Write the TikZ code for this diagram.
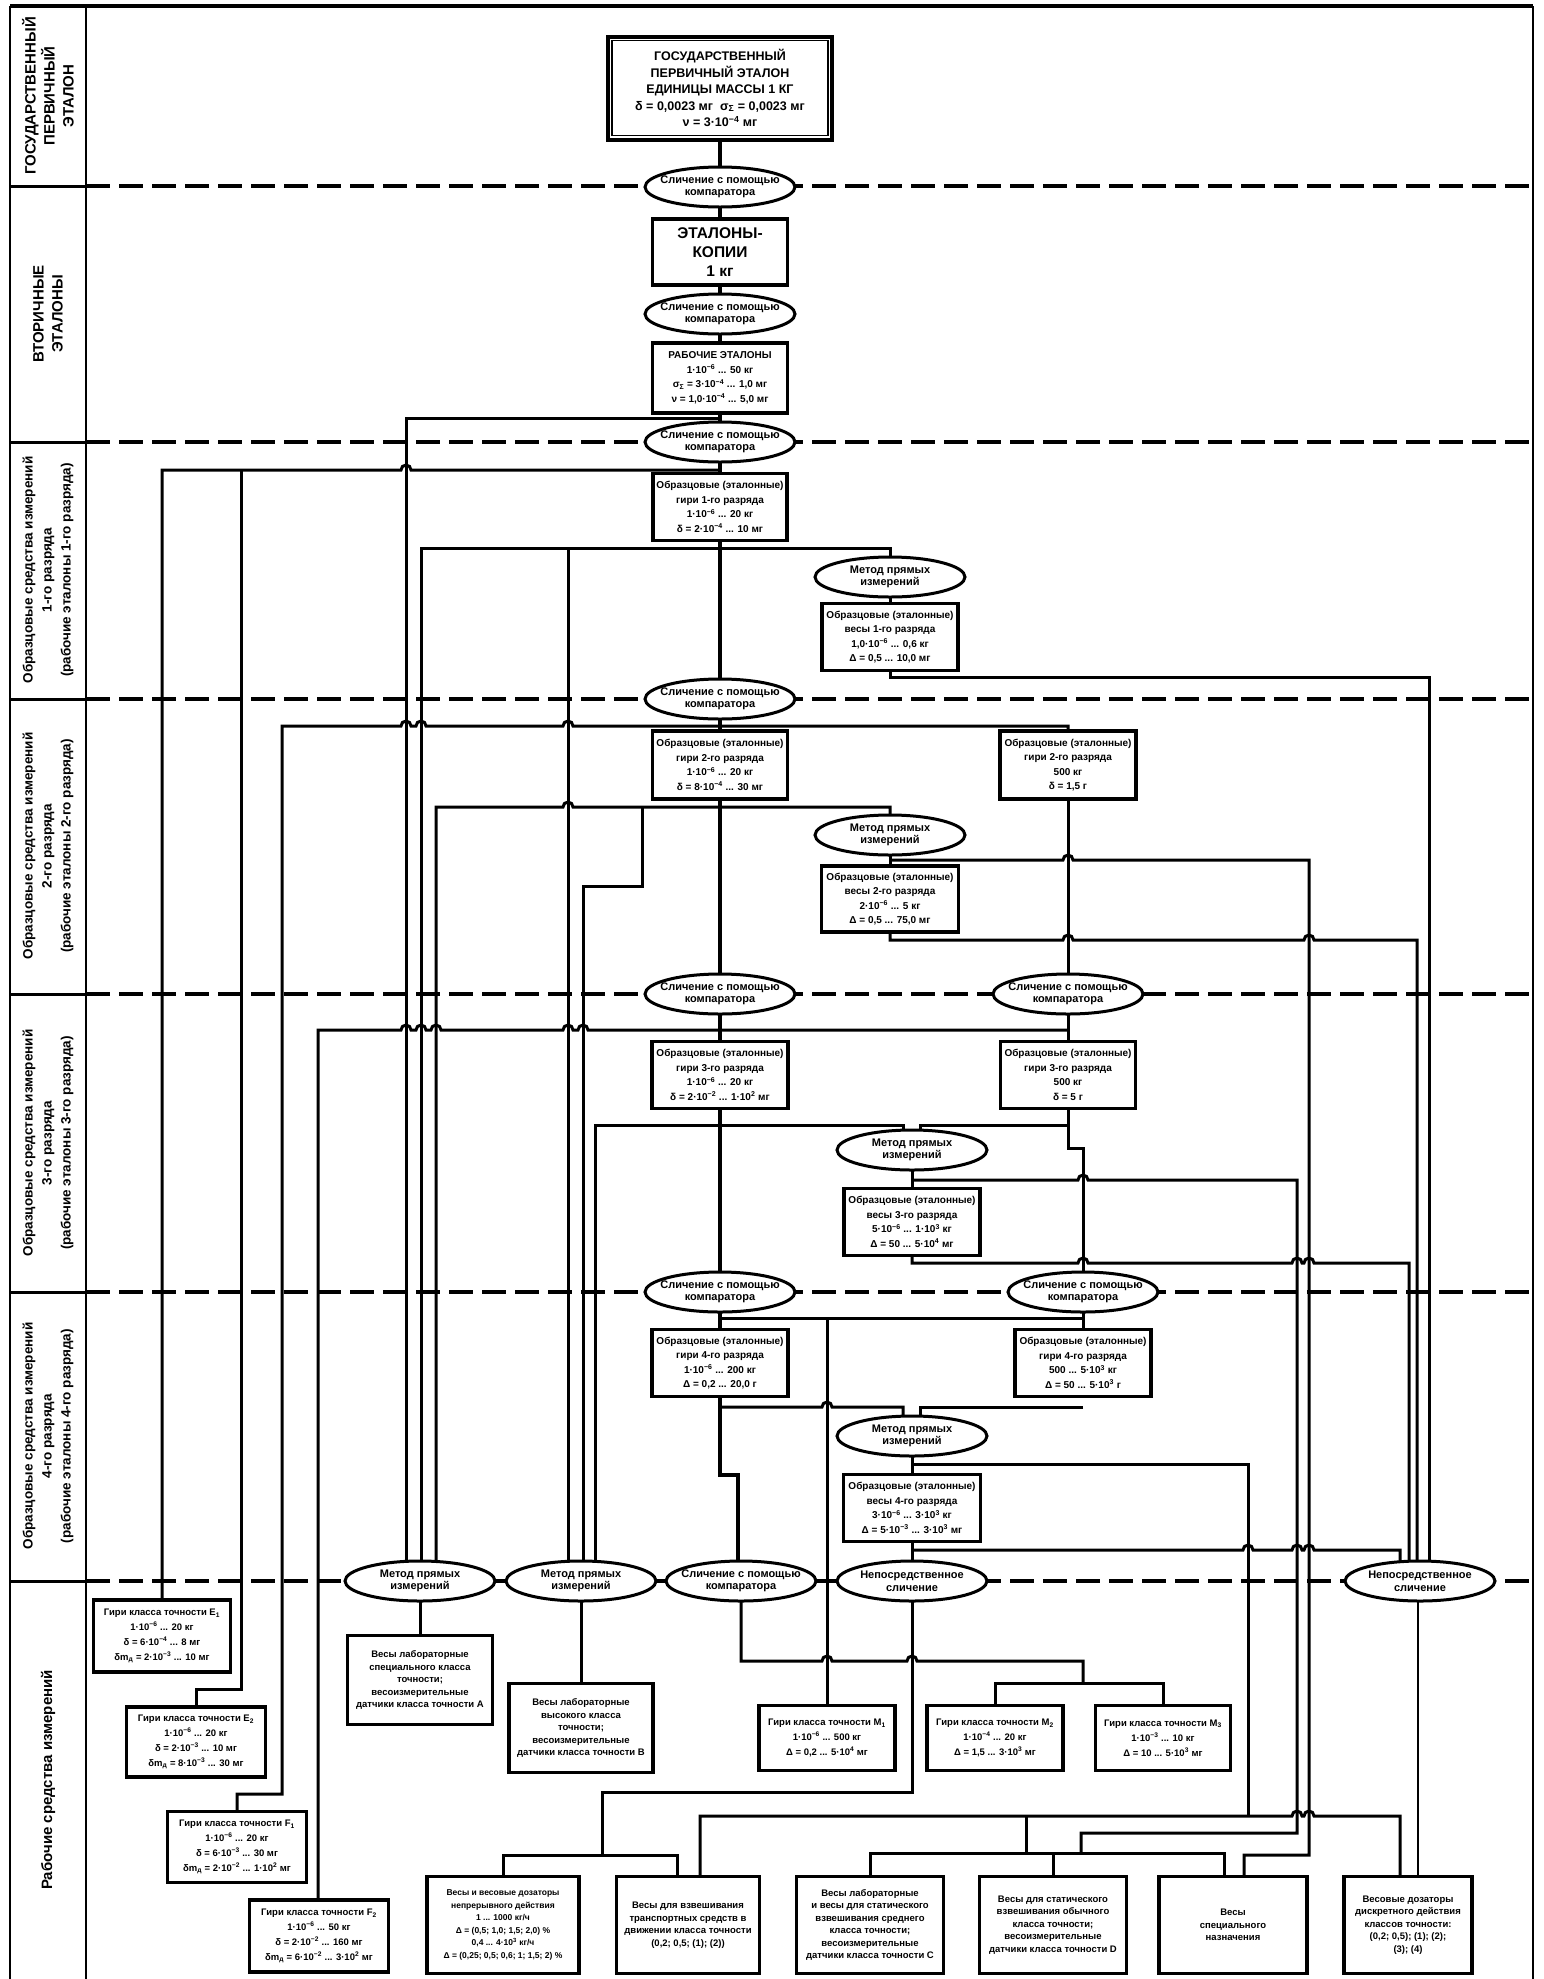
\documentclass[tikz,border=0pt]{standalone}
\usepackage{fontspec}
\setmainfont{Liberation Sans}
\usetikzlibrary{shapes.geometric}
\pgfdeclarelayer{paper}
\pgfdeclarelayer{background}
\pgfsetlayers{paper,background,main}
\newcommand\xsup[1]{\textsuperscript{#1}}
\newcommand\xsub[1]{\textsubscript{#1}}
\begin{document}
\begin{tikzpicture}[x=1pt,y=-1pt,
  bx/.style={draw, line width=3.5pt, fill=white, inner sep=1pt, align=center, font=\bfseries\fontsize{10}{14.5}\selectfont},
  bxs/.style={bx, font=\bfseries\fontsize{9.5}{12.5}\selectfont},
  bxe/.style={bx, font=\bfseries\fontsize{9.5}{15}\selectfont},
  ell/.style={draw, ellipse, line width=3pt, fill=white, inner xsep=-16pt, inner ysep=-2pt, minimum width=150pt, minimum height=40pt, align=center, font=\bfseries\fontsize{11}{12.5}\selectfont},
  conn/.style={line width=3pt},
  spine/.style={line width=4pt},
  thinconn/.style={line width=1.5pt},
  sepline/.style={line width=4pt, dash pattern=on 24pt off 9pt},
  lanelab/.style={rotate=90, align=center, font=\bfseries\fontsize{13.5}{19}\selectfont},
  lanecap/.style={rotate=90, align=center, font=\bfseries\fontsize{15}{19}\selectfont}]
\useasboundingbox (0,0) rectangle (1543,1979);
\begin{pgfonlayer}{paper}
\fill[white] (0,0) rectangle (1543,1979);
\end{pgfonlayer}

% ---------- lane labels ----------
\node[lanecap] (lab1) at (48,96) {ГОСУДАРСТВЕННЫЙ\\ПЕРВИЧНЫЙ\\ЭТАЛОН};
\node[lanecap] (lab2) at (48,314) {ВТОРИЧНЫЕ\\ЭТАЛОНЫ};
\node[lanelab] (lab3) at (48,570) {Образцовые средства измерений\\1-го разряда\\(рабочие эталоны 1-го разряда)};
\node[lanelab] (lab4) at (48,846) {Образцовые средства измерений\\2-го разряда\\(рабочие эталоны 2-го разряда)};
\node[lanelab] (lab5) at (48,1143) {Образцовые средства измерений\\3-го разряда\\(рабочие эталоны 3-го разряда)};
\node[lanelab] (lab6) at (48,1436) {Образцовые средства измерений\\4-го разряда\\(рабочие эталоны 4-го разряда)};
\node[lanecap] (lab7) at (48,1780) {Рабочие средства измерений};

% ---------- central column ----------
\node[bx, line width=4pt, minimum width=224pt, minimum height=103pt, font=\bfseries\fontsize{12.5}{16.5}\selectfont] (gos) at (720,88)
  {ГОСУДАРСТВЕННЫЙ\\ПЕРВИЧНЫЙ ЭТАЛОН\\ЕДИНИЦЫ МАССЫ 1 КГ\\δ = 0,0023 мг \ σ\xsub{Σ} = 0,0023 мг\\ν = 3·10\xsup{−4} мг};
\draw[line width=1.5pt] ([shift={(6,6)}]gos.north west) rectangle ([shift={(-6,-6)}]gos.south east);
\node[ell] (ec1) at (720,187) {Сличение с помощью\\компаратора};
\node[bx, minimum width=135pt, minimum height=66pt, font=\bfseries\fontsize{15.5}{19}\selectfont] (kop) at (720,252) {ЭТАЛОНЫ-\\КОПИИ\\1 кг};
\node[ell] (ec2) at (720,314) {Сличение с помощью\\компаратора};
\node[bx, minimum width=135pt, minimum height=70pt] (rab) at (720,378)
  {РАБОЧИЕ ЭТАЛОНЫ\\1·10\xsup{−6} ... 50 кг\\σ\xsub{Σ} = 3·10\xsup{−4} ... 1,0 мг\\ν = 1,0·10\xsup{−4} ... 5,0 мг};
\node[ell] (ec3) at (720,442) {Сличение с помощью\\компаратора};
\node[bx, minimum width=134pt, minimum height=67pt] (g1) at (720,507)
  {Образцовые (эталонные)\\гири 1-го разряда\\1·10\xsup{−6} ... 20 кг\\δ = 2·10\xsup{−4} ... 10 мг};
\node[ell] (em1) at (890,577) {Метод прямых\\измерений};
\node[bx, minimum width=136pt, minimum height=67pt] (w1) at (890,637)
  {Образцовые (эталонные)\\весы 1-го разряда\\1,0·10\xsup{−6} ... 0,6 кг\\Δ = 0,5 ... 10,0 мг};
\node[ell] (ec4) at (720,699) {Сличение с помощью\\компаратора};
\node[bx, minimum width=135pt, minimum height=68pt] (g2) at (720,765)
  {Образцовые (эталонные)\\гири 2-го разряда\\1·10\xsup{−6} ... 20 кг\\δ = 8·10\xsup{−4} ... 30 мг};
\node[bx, minimum width=136pt, minimum height=68pt] (g2b) at (1068,765)
  {Образцовые (эталонные)\\гири 2-го разряда\\500 кг\\δ = 1,5 г};
\node[ell] (em2) at (890,835) {Метод прямых\\измерений};
\node[bx, minimum width=137pt, minimum height=66pt] (w2) at (890,899)
  {Образцовые (эталонные)\\весы 2-го разряда\\2·10\xsup{−6} ... 5 кг\\Δ = 0,5 ... 75,0 мг};
\node[ell] (ec5) at (720,994) {Сличение с помощью\\компаратора};
\node[ell] (ec5r) at (1068,994) {Сличение с помощью\\компаратора};
\node[bx, minimum width=136pt, minimum height=67pt] (g3) at (720,1075)
  {Образцовые (эталонные)\\гири 3-го разряда\\1·10\xsup{−6} ... 20 кг\\δ = 2·10\xsup{−2} ... 1·10\xsup{2} мг};
\node[bx, minimum width=135pt, minimum height=67pt] (g3b) at (1068,1075)
  {Образцовые (эталонные)\\гири 3-го разряда\\500 кг\\δ = 5 г};
\node[ell] (em3) at (912,1150) {Метод прямых\\измерений};
\node[bx, minimum width=136pt, minimum height=67pt] (w3) at (912,1222)
  {Образцовые (эталонные)\\весы 3-го разряда\\5·10\xsup{−6} ... 1·10\xsup{3} кг\\Δ = 50 ... 5·10\xsup{4} мг};
\node[ell] (ec6) at (720,1292) {Сличение с помощью\\компаратора};
\node[ell] (ec6r) at (1083,1292) {Сличение с помощью\\компаратора};
\node[bx, minimum width=136pt, minimum height=67pt] (g4) at (720,1363)
  {Образцовые (эталонные)\\гири 4-го разряда\\1·10\xsup{−6} ... 200 кг\\Δ = 0,2 ... 20,0 г};
\node[bx, minimum width=136pt, minimum height=67pt] (g4b) at (1083,1363)
  {Образцовые (эталонные)\\гири 4-го разряда\\500 ... 5·10\xsup{3} кг\\Δ = 50 ... 5·10\xsup{3} г};
\node[ell] (em4) at (912,1436) {Метод прямых\\измерений};
\node[bx, minimum width=137pt, minimum height=67pt] (w4) at (912,1508)
  {Образцовые (эталонные)\\весы 4-го разряда\\3·10\xsup{−6} ... 3·10\xsup{3} кг\\Δ = 5·10\xsup{−3} ... 3·10\xsup{3} мг};

% ---------- working instruments ----------
\node[ell] (el1) at (420,1581) {Метод прямых\\измерений};
\node[ell] (el2) at (581,1581) {Метод прямых\\измерений};
\node[ell] (el3) at (741,1581) {Сличение с помощью\\компаратора};
\node[ell] (el4) at (912,1581) {Непосредственное\\сличение};
\node[ell] (el5) at (1420,1581) {Непосредственное\\сличение};

\node[bxe, minimum width=137pt, minimum height=72pt] (bE1) at (162,1636)
  {Гири класса точности E\xsub{1}\\1·10\xsup{−6} ... 20 кг\\δ = 6·10\xsup{−4} ... 8 мг\\δm\xsub{д} = 2·10\xsup{−3} ... 10 мг};
\node[bxe, minimum width=139pt, minimum height=70pt] (bE2) at (196,1742)
  {Гири класса точности E\xsub{2}\\1·10\xsup{−6} ... 20 кг\\δ = 2·10\xsup{−3} ... 10 мг\\δm\xsub{д} = 8·10\xsup{−3} ... 30 мг};
\node[bxe, minimum width=139pt, minimum height=71pt] (bF1) at (237,1847)
  {Гири класса точности F\xsub{1}\\1·10\xsup{−6} ... 20 кг\\δ = 6·10\xsup{−3} ... 30 мг\\δm\xsub{д} = 2·10\xsup{−2} ... 1·10\xsup{2} мг};
\node[bxe, minimum width=139pt, minimum height=72pt] (bF2) at (319,1936)
  {Гири класса точности F\xsub{2}\\1·10\xsup{−6} ... 50 кг\\δ = 2·10\xsup{−2} ... 160 мг\\δm\xsub{д} = 6·10\xsup{−2} ... 3·10\xsup{2} мг};
\node[bxs, minimum width=145pt, minimum height=89pt] (bA) at (420,1680)
  {Весы лабораторные\\специального класса\\точности;\\весоизмерительные\\датчики класса точности А};
\node[bxs, minimum width=144pt, minimum height=89pt] (bB) at (581,1728)
  {Весы лабораторные\\высокого класса\\точности;\\весоизмерительные\\датчики класса точности В};
\node[bxe, minimum width=136pt, minimum height=65pt] (bM1) at (827,1738)
  {Гири класса точности M\xsub{1}\\1·10\xsup{−6} ... 500 кг\\Δ = 0,2 ... 5·10\xsup{4} мг};
\node[bxe, minimum width=136pt, minimum height=65pt] (bM2) at (995,1738)
  {Гири класса точности M\xsub{2}\\1·10\xsup{−4} ... 20 кг\\Δ = 1,5 ... 3·10\xsup{3} мг};
\node[bxe, minimum width=135pt, minimum height=65pt] (bM3) at (1163,1738)
  {Гири класса точности M\xsub{3}\\1·10\xsup{−3} ... 10 кг\\Δ = 10 ... 5·10\xsup{3} мг};
\node[bxs, minimum width=152pt, minimum height=97pt, font=\bfseries\fontsize{8.5}{12.5}\selectfont] (bN) at (503,1925)
  {Весы и весовые дозаторы\\непрерывного действия\\1 ... 1000 кг/ч\\Δ = (0,5; 1,0; 1,5; 2,0) \%\\0,4 ... 4·10\xsup{3} кг/ч\\Δ = (0,25; 0,5; 0,6; 1; 1,5; 2) \%};
\node[bxs, minimum width=143pt, minimum height=97pt] (bT) at (688,1925)
  {Весы для взвешивания\\транспортных средств в\\движении класса точности\\(0,2; 0,5; (1); (2))};
\node[bxs, minimum width=147pt, minimum height=97pt] (bC) at (870,1925)
  {Весы лабораторные\\и весы для статического\\взвешивания среднего\\класса точности;\\весоизмерительные\\датчики класса точности С};
\node[bxs, minimum width=147pt, minimum height=97pt] (bD) at (1053,1925)
  {Весы для статического\\взвешивания обычного\\класса точности;\\весоизмерительные\\датчики класса точности D};
\node[bxs, minimum width=148pt, minimum height=97pt] (bS) at (1233,1925)
  {Весы\\специального\\назначения};
\node[bxs, minimum width=128pt, minimum height=97pt] (bDz) at (1408,1925)
  {Весовые дозаторы\\дискретного действия\\классов точности:\\(0,2; 0,5); (1); (2);\\(3); (4)};

% ---------- frame, separators, connectors ----------
\begin{pgfonlayer}{background}
\coordinate (tl) at (10,6);
\coordinate (tr) at (1533,6);
\draw[line width=3.5pt] (tl) -- (tr);
\draw[line width=2.5pt] (tl) -- (10,1979);
\draw[line width=2.5pt] (86,6) -- (86,1979);
\draw[line width=2pt] (tr) -- (1533,1979);
\foreach \yy in {186,442,699,994,1292,1581} {
  \draw[line width=3pt] (10,\yy) -- (86,\yy);
  \draw[sepline] (86,\yy) -- (1533,\yy);
}

% spine
\draw[spine] (gos.center) -- (g4.center);
\draw[spine] (g4.center) |- (738,1475) -- (738,1581);

% from working standards
\draw[conn] (rab.center) |- (406,418) -- (406,1581);
% below ec3
\draw[conn] (bE1.center) -- (162,470) -- (401,470) arc (180:360:5) -- (720,470);
\draw[conn] (241,470) -- (241,1689) -| (bE2.center);
% below g1
\draw[conn] (421,1581) -- (421,548) -- (890,548) -- (em1.center);
\draw[conn] (568,548) -- (568,1581);
\draw[conn] (em1.center) -- (w1.center);
\draw[conn] (w1.center) |- (1429,677) -- (1429,1581);
% below ec4
\draw[conn] (bF1.center) |- (282,1794) -- (282,726) -- (401,726) arc (180:360:5) -- (416,726) arc (180:360:5)
  -- (563,726) arc (180:360:5) -- (1068,726) -- (g2b.center);
% below g2
\draw[conn] (436,1581) -- (436,807) -- (563,807) arc (180:360:5) -- (890,807) -- (em2.center);
\draw[conn] (642,807) -- (642,886) -- (583,886) -- (583,1581);
\draw[conn] (em2.center) -- (w2.center);
\draw[conn] (890,860) -- (1063,860) arc (180:360:5) -- (1309,860) -- (1309,1855) -- (1244,1855) -- (1244,1925);
\draw[conn] (w2.center) |- (1063,940) arc (180:360:5) -- (1304,940) arc (180:360:5) -- (1417,940) -- (1417,1581);
% right column
\draw[conn] (g2b.center) -- (ec5r.center) -- (g3b.center) -- (1068,1148) -- (1083,1148) -- (ec6r.center) -- (g4b.center);
% below ec5
\draw[conn] (318,1936) -- (318,1030) -- (401,1030) arc (180:360:5) -- (416,1030) arc (180:360:5)
  -- (431,1030) arc (180:360:5) -- (563,1030) arc (180:360:5) -- (578,1030) arc (180:360:5) -- (1068,1030);
% below g3
\draw[conn] (595,1581) -- (595,1125) -- (903,1125) -- (903,1150);
\draw[conn] (1068,1125) -- (920,1125) -- (920,1150);
\draw[conn] (em3.center) -- (w3.center);
\draw[conn] (912,1180) -- (1078,1180) arc (180:360:5) -- (1297,1180) -- (1297,1833) -- (1081,1833) -- (1081,1853);
\draw[conn] (w3.center) |- (1078,1263) arc (180:360:5) -- (1292,1263) arc (180:360:5) -- (1304,1263) arc (180:360:5)
  -- (1409,1263) -- (1409,1581);
% below ec6
\draw[conn] (720,1318) -- (1083,1318);
\draw[conn] (827,1318) -- (bM1.center);
\draw[conn] (720,1407) -- (822,1407) arc (180:360:5) -- (903,1407) -- (903,1436);
\draw[conn] (1083,1407) -- (920,1407) -- (920,1436);
\draw[conn] (em4.center) -- (w4.center) -- (el4.center);
\draw[conn] (912,1464) -- (1248,1464) -- (1248,1816);
\draw[conn] (912,1550) -- (1243,1550) arc (180:360:5) -- (1292,1550) arc (180:360:5) -- (1304,1550) arc (180:360:5)
  -- (1400,1550) -- (1400,1581);

% working instruments lane
\draw[conn] (el1.center) -- (bA.center);
\draw[conn] (el2.center) -- (bB.center);
\draw[conn] (el3.center) |- (822,1661) arc (180:360:5) -- (907,1661) arc (180:360:5) -- (1083,1661) -- (1083,1683);
\draw[conn] (bM2.center) |- (1083,1683) -| (bM3.center);
\draw[conn] (el4.center) |- (602,1792) -- (602,1855);
\draw[conn] (bN.center) |- (677,1855) -- (677,1925);
\draw[conn] (700,1925) -- (700,1816) -- (1292,1816) arc (180:360:5) -- (1304,1816) arc (180:360:5) -- (1400,1816) -- (1400,1925);
\draw[conn] (1026,1816) -- (1026,1853);
\draw[conn] (bC.center) |- (1224,1853) -- (1224,1925);
\draw[conn] (1053,1853) -- (bD.center);
\draw[thinconn] (1418,1581) -- (1418,1925);
\end{pgfonlayer}
\end{tikzpicture}
\end{document}
